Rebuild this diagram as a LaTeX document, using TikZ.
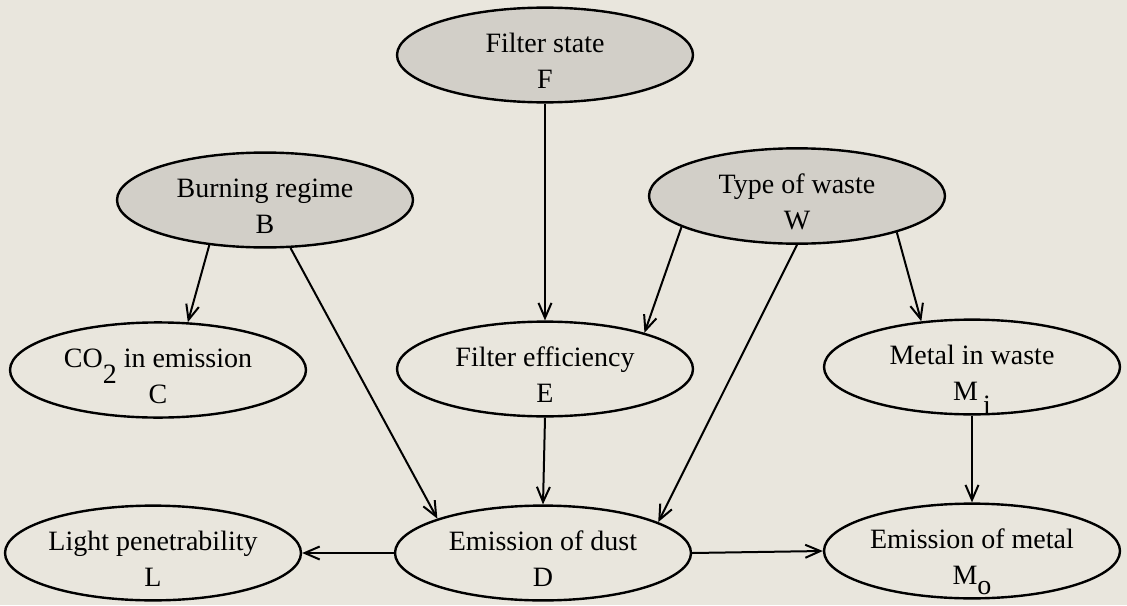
\documentclass[tikz,border=0pt]{standalone}
\usepackage{fontspec}
\setmainfont{Liberation Serif}
\usetikzlibrary{shapes.geometric,arrows.meta}
\definecolor{paper}{RGB}{233,230,221}
\definecolor{rootfill}{RGB}{210,207,200}
% a lowered index in full text size that does not change the line box
\newcommand{\lowsub}[2]{\raisebox{-#1}[0pt][0pt]{#2}}
% extra room above the first line, so the text sits a little low in its ellipse
\newcommand{\topstrut}{\rule{0pt}{31pt}}
\begin{document}
\begin{tikzpicture}[x=1pt,y=-1pt,
  var/.style={ellipse,draw,line width=2.4pt,fill=paper,minimum width=296pt,
    minimum height=94pt,inner sep=0pt,align=center,
    font=\fontsize{28}{36}\selectfont},
  rootvar/.style={var,fill=rootfill},
  link/.style={line width=2pt,-{Straight Barb[length=15pt,width=13pt,line width=2pt]}}]
  \fill[paper] (0,0) rectangle (1127,605);
  \useasboundingbox (0,0) rectangle (1127,605);
  % parent variables
  \node[rootvar] (F) at (545,55)  {\topstrut Filter state\\F};
  \node[rootvar] (B) at (265,200) {\topstrut Burning regime\\B};
  \node[rootvar] (W) at (797,196) {\topstrut Type of waste\\W};
  % derived variables
  \node[var] (C)  at (158,370) {\topstrut CO\lowsub{16pt}{2} in emission\\C};
  \node[var] (E)  at (545,369) {\topstrut Filter efficiency\\E};
  \node[var] (Mi) at (972,367) {\topstrut Metal in waste\\M\hspace{5pt}\lowsub{14pt}{i}};
  \node[var] (L)  at (153,553) {\topstrut Light penetrability\\L};
  \node[var] (D)  at (543,553) {\topstrut Emission of dust\\D};
  \node[var] (Mo) at (972,551) {\topstrut Emission of metal\\M\lowsub{10pt}{o}};
  % dependencies
  \draw[link] (F.south) -- (E.north);
  \draw[link] (B.-141) -- (C.58);
  \draw[link] (B.-62) -- (D.162);
  \draw[link] (W.-165) -- (E.20);
  \draw[link] (W.south) -- (D.15);
  \draw[link] (W.-20) -- (Mi.138);
  \draw[link] (E.south) -- (D.north);
  \draw[link] (Mi.south) -- (Mo.north);
  \draw[link] (D.west) -- (L.east);
  \draw[link] (D.east) -- (Mo.west);
\end{tikzpicture}
\end{document}
